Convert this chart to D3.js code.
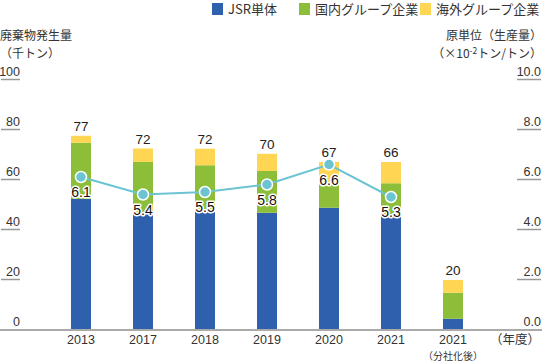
<!DOCTYPE html>
<html><head><meta charset="utf-8">
<script src="https://cdn.jsdelivr.net/npm/d3@7"></script>
<style>
html,body{margin:0;padding:0;background:#fff;}
svg{display:block;font-family:"Liberation Sans","Noto Sans CJK JP",sans-serif;}
</style></head>
<body>
<script>
const categories = ["2013","2017","2018","2019","2020","2021","2021（分社化後）"];
const jsr      = [52.2, 47.0, 48.0, 46.7, 48.7, 45.8, 4.3];
const domestic = [22.5, 20.0, 17.7, 16.7, 9.4, 12.7, 10.4];
const overseas = [2.8, 5.4, 6.6, 6.9, 8.9, 8.5, 5.1];
const totals   = [77, 72, 72, 70, 67, 66, 20];
const intensity = [6.1, 5.4, 5.5, 5.8, 6.6, 5.3];
const leftTicks = [0,20,40,60,80,100];
const rightTicks = [0,2,4,6,8,10];
const seriesNames = ["JSR単体","国内グループ企業","海外グループ企業"];
const colors = ["#2f60ad","#8dbe3a","#ffd653"];

const W=542,H=361;
const svg=d3.select("body").append("svg").attr("width",W).attr("height",H);
const x=d3.scalePoint().domain([...categories,"（年度）"]).range([81,515]);
const y=d3.scaleLinear().domain([0,100]).range([329.5,79.5]);
const y2=d3.scaleLinear().domain([0,10]).range([329.5,79.5]);
const bw=20;
const txt="#333";
const cjk='"Noto Sans CJK JP",sans-serif';

const rows=categories.map((c,i)=>({cat:c,jsr:jsr[i],domestic:domestic[i],overseas:overseas[i]}));
const stack=d3.stack().keys(["jsr","domestic","overseas"])(rows);
svg.append("g").selectAll("g").data(stack).join("g").attr("fill",(d,i)=>colors[i])
 .selectAll("rect").data(d=>d).join("rect")
 .attr("x",d=>x(d.data.cat)-bw/2).attr("width",bw)
 .attr("y",d=>y(d[1])).attr("height",d=>y(d[0])-y(d[1]));

svg.append("line").attr("x1",0).attr("x2",W).attr("y1",y(0)+0.5).attr("y2",y(0)+0.5)
 .attr("stroke","#aaa").attr("stroke-width",2);

const gl=svg.append("g");
leftTicks.forEach(t=>{
  if(t>0) gl.append("line").attr("x1",1).attr("x2",20).attr("y1",y(t)).attr("y2",y(t)).attr("stroke","#999").attr("stroke-width",1.5);
  gl.append("text").attr("x",20).attr("y",y(t)-4).attr("text-anchor","end").attr("font-size",12.5).attr("fill",txt).text(t);
});
const gr=svg.append("g");
rightTicks.forEach(t=>{
  if(t>0) gr.append("line").attr("x1",517).attr("x2",541).attr("y1",y2(t)).attr("y2",y2(t)).attr("stroke","#999").attr("stroke-width",1.5);
  gr.append("text").attr("x",541).attr("y",y2(t)-4).attr("text-anchor","end").attr("font-size",12.5).attr("fill",txt).text(t.toFixed(1));
});

svg.append("text").attr("x",0).attr("y",40).attr("font-size",12).attr("fill",txt).attr("font-family",cjk).text("廃棄物発生量");
svg.append("text").attr("x",0).attr("y",58).attr("font-size",12).attr("fill",txt).attr("font-family",cjk).text("（千トン）");
svg.append("text").attr("x",542).attr("y",40).attr("text-anchor","end").attr("font-size",12).attr("fill",txt).attr("font-family",cjk).text("原単位（生産量）");
const t2=svg.append("text").attr("x",542).attr("y",58).attr("text-anchor","end").attr("font-size",12).attr("fill",txt).attr("font-family",cjk);
t2.append("tspan").text("（×10");
t2.append("tspan").attr("dy",-4).attr("font-size",8.5).text("-2");
t2.append("tspan").attr("dy",4).text("トン/トン）");

categories.forEach(c=>{
  const lab=c.startsWith("2021（")?"2021":c;
  svg.append("text").attr("x",x(c)).attr("y",344).attr("text-anchor","middle").attr("font-size",12.5).attr("fill",txt).text(lab);
  if(c.includes("分社化後")) svg.append("text").attr("x",x(c)).attr("y",359.5).attr("text-anchor","middle").attr("font-size",10).attr("fill",txt).attr("font-family",cjk).text("（分社化後）");
});
svg.append("text").attr("x",x("（年度）")).attr("y",344).attr("text-anchor","middle").attr("font-size",12.5).attr("fill",txt).attr("font-family",cjk).text("（年度）");

categories.forEach((c,i)=>{
  svg.append("text").attr("x",x(c)).attr("y",y(jsr[i]+domestic[i]+overseas[i])-5).attr("text-anchor","middle").attr("font-size",13.5).attr("fill","#222").text(totals[i]);
});

const pts=intensity.map((v,i)=>({c:categories[i],v}));
svg.append("path").datum(pts).attr("fill","none").attr("stroke","#6cc4d2").attr("stroke-width",2)
 .attr("d",d3.line().x(d=>x(d.c)).y(d=>y2(d.v)));
svg.append("g").selectAll("circle").data(pts).join("circle")
 .attr("cx",d=>x(d.c)).attr("cy",d=>y2(d.v)).attr("r",5.5)
 .attr("fill","#6cc4d2").attr("stroke","#fff").attr("stroke-width",1.5);
svg.append("g").selectAll("text").data(pts).join("text")
 .attr("x",d=>x(d.c)).attr("y",d=>y2(d.v)+20).attr("text-anchor","middle").attr("font-size",14)
 .attr("fill","#111").attr("stroke","#fff").attr("stroke-width",3).attr("stroke-linejoin","round").attr("paint-order","stroke")
 .text(d=>d.v.toFixed(1));

const legX=[212,299,420];
seriesNames.forEach((n,i)=>{
  svg.append("rect").attr("x",legX[i]).attr("y",3).attr("width",11).attr("height",12).attr("fill",colors[i]);
  svg.append("text").attr("x",legX[i]+16).attr("y",14).attr("font-size",13).attr("fill",txt).attr("font-family",cjk).text(n);
});
</script>
</body></html>
